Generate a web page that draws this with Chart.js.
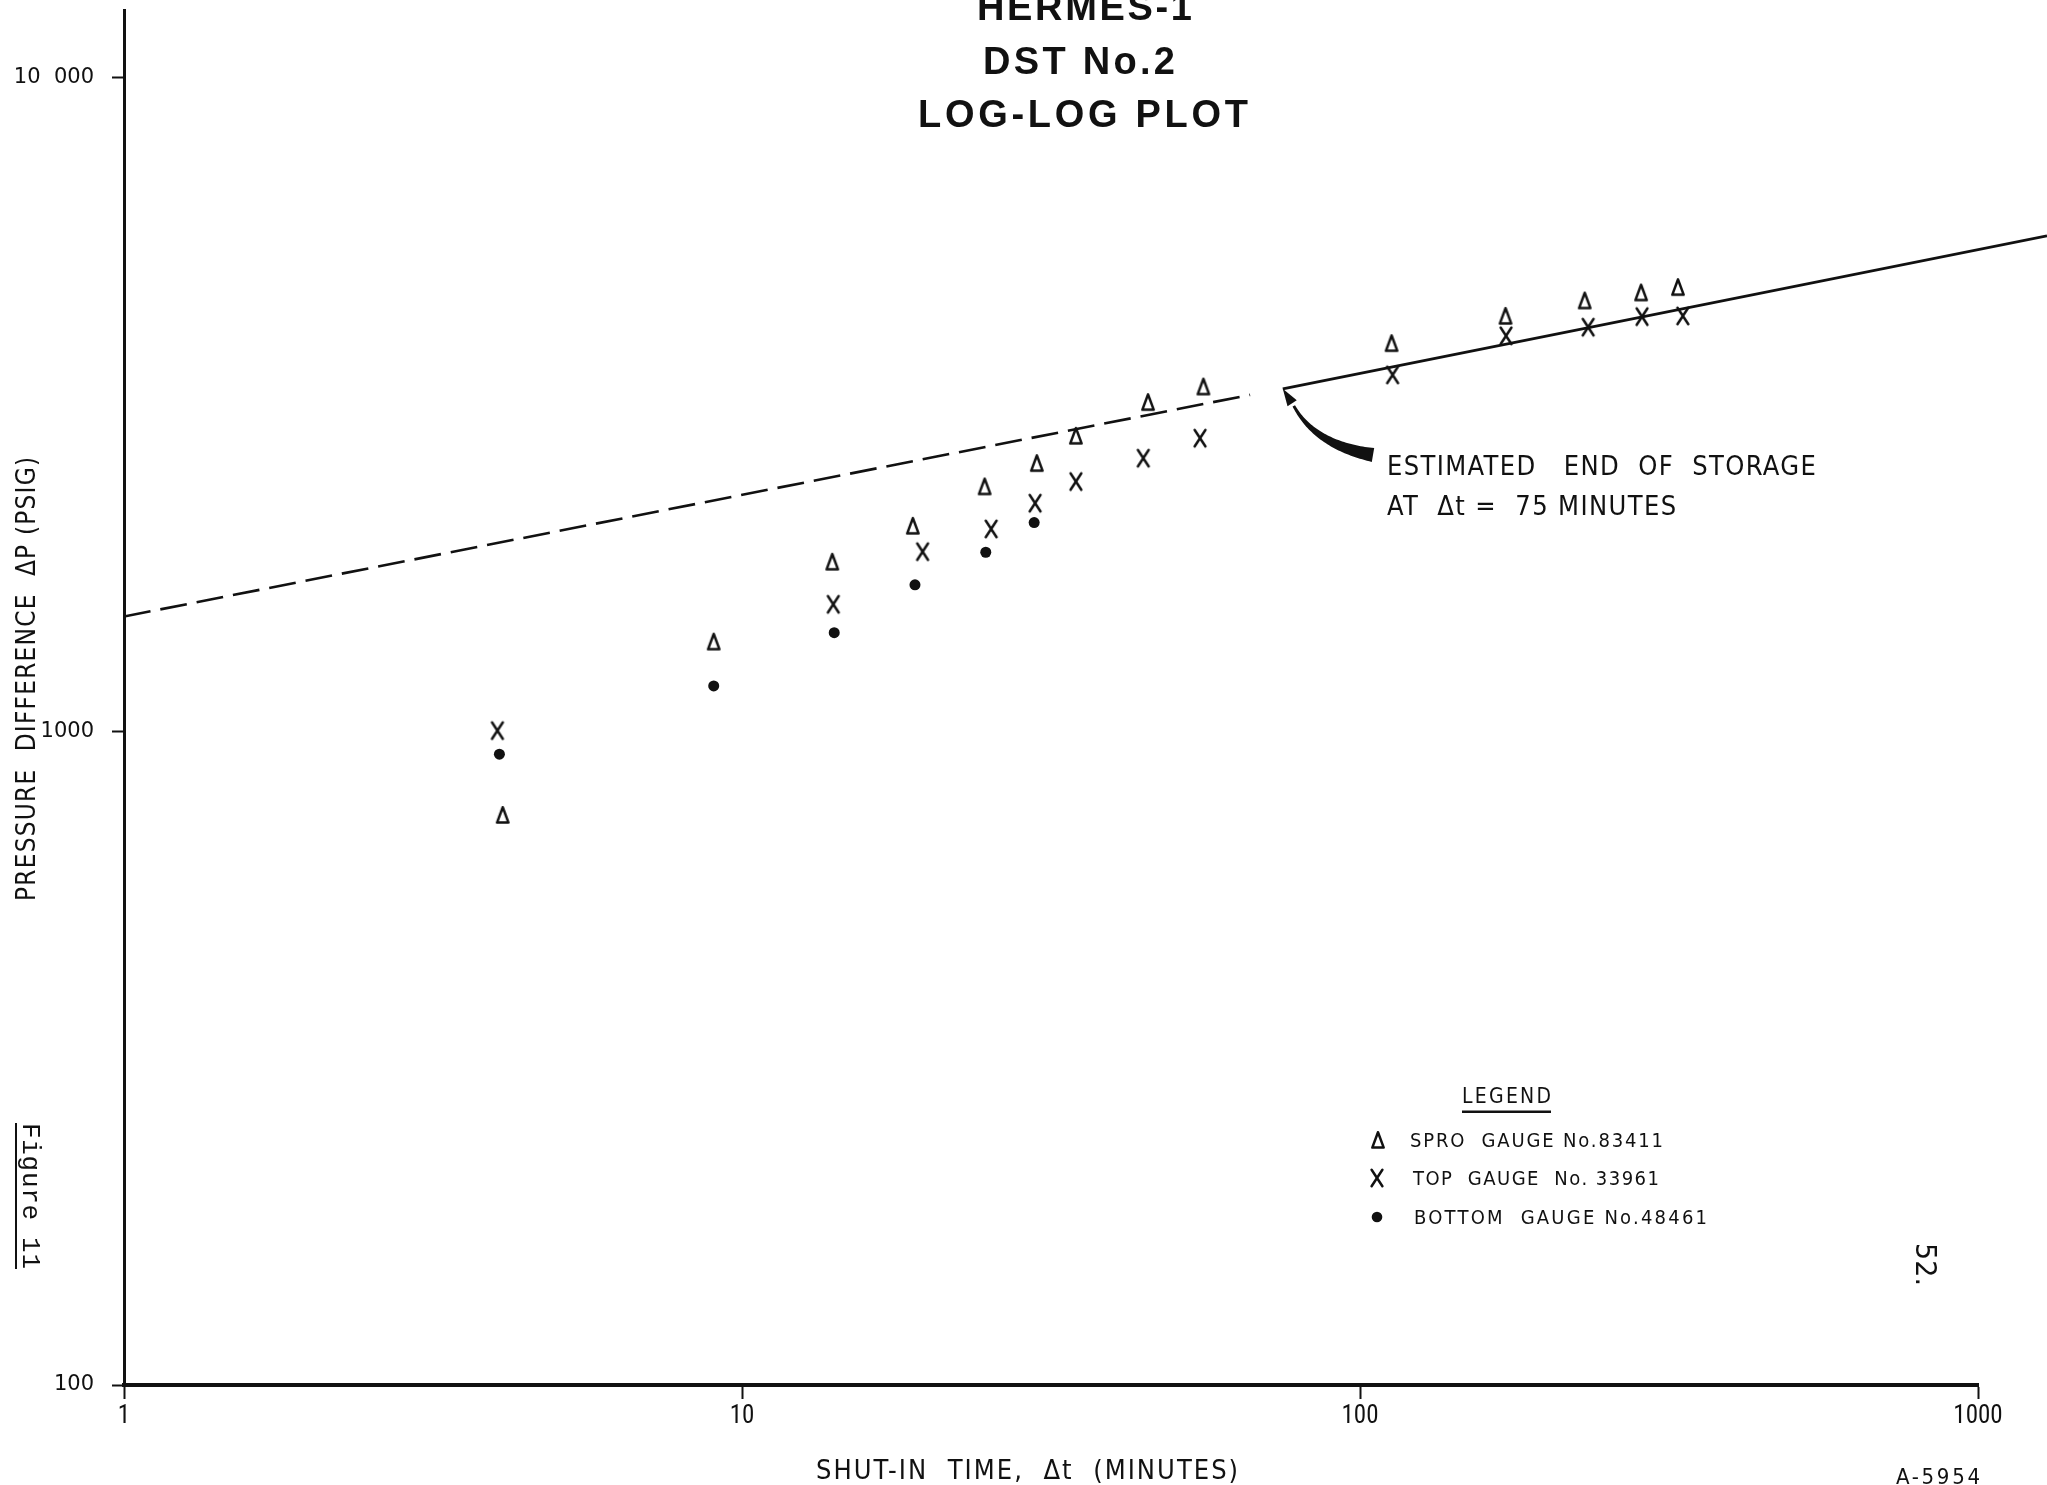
<!DOCTYPE html>
<html>
<head>
<meta charset="utf-8">
<title>HERMES-1 DST No.2 Log-Log Plot</title>
<script src="https://cdn.jsdelivr.net/npm/chart.js@4/dist/chart.umd.min.js"></script>
<style>
  html, body { margin: 0; padding: 0; background: #fff; }
  #wrap { width: 2047px; height: 1485px; position: relative; }
  canvas { display: block; }
</style>
</head>
<body>
<div id="wrap"><canvas id="plot" width="2047" height="1485"></canvas></div>
<script>
// Axis ticks
const xTickValues = [1, 10, 100, 1000];
const xTickLabels = ['1', '10', '100', '1000'];
const yTickValues = [100, 1000, 10000];
const yTickLabels = ['100', '1000', '10\u2007000'];

// Shut-in time (minutes) and pressure difference (psig) per gauge
const sproTime   = [4.1, 9.0, 14.0, 18.9, 24.7, 30.0, 34.7, 45.4, 55.8, 112.5, 172, 231, 285, 327];
const sproDP     = [745, 1372, 1818, 2063, 2370, 2573, 2833, 3190, 3370, 3926, 4323, 4563, 4694, 4783];
const topTime    = [4.02, 14.05, 19.6, 25.3, 29.8, 34.7, 44.6, 55.1, 112.9, 172.3, 234, 286, 333];
const topDP      = [1003, 1565, 1884, 2041, 2235, 2412, 2619, 2810, 3512, 4030, 4155, 4312, 4323];
const bottomTime = [4.05, 9.0, 14.1, 19.05, 24.8, 29.7];
const bottomDP   = [923, 1174, 1416, 1676, 1880, 2087];

// Straight-line trend: dashed during wellbore storage, solid after it ends
const storageEndTime = 75;
const earlyTrendTime = [1, 66.4];
const earlyTrendDP   = [1499, 3273];
const lateTrendTime  = [storageEndTime, 1293];
const lateTrendDP    = [3343, 5731];

// Text
const titleLines  = ['HERMES-1', 'DST No.2', 'LOG-LOG PLOT'];
const xTitle      = 'SHUT-IN  TIME,  Δt  (MINUTES)';
const yTitle      = 'PRESSURE  DIFFERENCE  ΔP (PSIG)';
const noteLines   = ['ESTIMATED   END  OF  STORAGE', 'AT  Δt =  75 MINUTES'];
const legendTitle = 'LEGEND';
const legendItems = ['SPRO  GAUGE No.83411', 'TOP  GAUGE  No. 33961', 'BOTTOM  GAUGE No.48461'];

const INK = '#111111';

function pts(xs, ys) { return xs.map((x, i) => ({ x: x, y: ys[i] })); }

// Marker glyphs used for the gauges
function makeMarker(kind) {
  const c = document.createElement('canvas');
  c.width = 18; c.height = 22;
  const g = c.getContext('2d');
  g.strokeStyle = INK; g.lineCap = 'round'; g.lineJoin = 'round';
  g.lineWidth = 2.5;
  g.beginPath();
  if (kind === 'delta') {
    g.moveTo(9, 3.2); g.lineTo(3.3, 18.6); g.lineTo(14.7, 18.6); g.closePath();
  } else {
    g.moveTo(3.6, 2.8); g.lineTo(14.4, 19.2); g.moveTo(14.4, 2.8); g.lineTo(3.6, 19.2);
  }
  g.stroke();
  return c;
}
const deltaMark = makeMarker('delta');
const crossMark = makeMarker('cross');

// Draw text into a given width: squeeze when too wide, letter-space when too narrow
function fitText(ctx, text, x, y, width, font) {
  ctx.save();
  ctx.font = font;
  ctx.textAlign = 'left';
  ctx.textBaseline = 'alphabetic';
  ctx.fillStyle = INK;
  const natural = ctx.measureText(text).width;
  ctx.translate(x, y);
  if (natural > width) {
    ctx.scale(width / natural, 1);
  } else if (natural < width) {
    const n = Array.from(text).length;
    if (n > 1) ctx.letterSpacing = ((width - natural) / (n - 1)).toFixed(2) + 'px';
  }
  ctx.fillText(text, 0, 0);
  ctx.restore();
}
function fitTextRotated(ctx, text, x, y, angle, width, font) {
  ctx.save();
  ctx.translate(x, y);
  ctx.rotate(angle);
  fitText(ctx, text, 0, 0, width, font);
  ctx.restore();
}

const LETTER = '"DejaVu Sans Condensed", "Liberation Sans", sans-serif';

const paperPlugin = {
  id: 'paper',
  beforeDraw(chart) {
    const ctx = chart.ctx;
    ctx.save();
    ctx.fillStyle = '#ffffff';
    ctx.fillRect(0, 0, chart.width, chart.height);
    ctx.restore();
  }
};

function drawArrow(ctx, tip) {
  const P0 = { x: 1373, y: 455 };              // blunt tail beside the note
  const P2 = { x: tip.x + 11, y: tip.y + 17 }; // base of the arrowhead
  const C  = { x: P0.x - 58, y: P0.y - 10 };
  const N = 48, left = [], right = [];
  for (let i = 0; i <= N; i++) {
    const t = i / N, u = 1 - t;
    const x = u * u * P0.x + 2 * u * t * C.x + t * t * P2.x;
    const y = u * u * P0.y + 2 * u * t * C.y + t * t * P2.y;
    let dx = 2 * u * (C.x - P0.x) + 2 * t * (P2.x - C.x);
    let dy = 2 * u * (C.y - P0.y) + 2 * t * (P2.y - C.y);
    const len = Math.hypot(dx, dy) || 1; dx /= len; dy /= len;
    const w = 1.4 + 5.6 * Math.pow(u, 1.3);
    left.push([x - dy * w, y + dx * w]);
    right.push([x + dy * w, y - dx * w]);
  }
  ctx.save();
  ctx.fillStyle = INK;
  ctx.beginPath();
  left.forEach((p, i) => i ? ctx.lineTo(p[0], p[1]) : ctx.moveTo(p[0], p[1]));
  for (let i = right.length - 1; i >= 0; i--) ctx.lineTo(right[i][0], right[i][1]);
  ctx.closePath();
  ctx.fill();
  // arrowhead
  let hx = tip.x - P2.x, hy = tip.y - P2.y;
  const hl = Math.hypot(hx, hy); hx /= hl; hy /= hl;
  const bx = P2.x + hx * 3, by = P2.y + hy * 3;
  ctx.beginPath();
  ctx.moveTo(tip.x, tip.y);
  ctx.lineTo(bx - hy * 5.5, by + hx * 5.5);
  ctx.lineTo(bx + hy * 5.5, by - hx * 5.5);
  ctx.closePath();
  ctx.fill();
  ctx.restore();
}

const notesPlugin = {
  id: 'notes',
  afterDraw(chart) {
    const ctx = chart.ctx;
    const xs = chart.scales.x, ys = chart.scales.y;

    // title block
    const titleFont = 'bold 38px "Liberation Sans", Arial, sans-serif';
    fitText(ctx, titleLines[0], 977, 20, 215, titleFont);
    fitText(ctx, titleLines[1], 983, 74, 192, titleFont);
    fitText(ctx, titleLines[2], 918, 127, 330, titleFont);

    // axis titles
    fitTextRotated(ctx, yTitle, 35, 901, -Math.PI / 2, 444, '26px ' + LETTER);
    fitText(ctx, xTitle, 816, 1479, 422, '27px ' + LETTER);
    fitText(ctx, 'A-5954', 1896, 1484, 84, '22px ' + LETTER);

    // figure caption and page number along the margins
    ctx.save();
    ctx.translate(23, 1123);
    ctx.rotate(Math.PI / 2);
    fitText(ctx, 'Figure 11', 0, 0, 146, '26px "Liberation Mono", "DejaVu Sans Mono", monospace');
    ctx.fillStyle = INK;
    ctx.fillRect(0, 6, 146, 2);
    ctx.restore();
    fitTextRotated(ctx, '52.', 1916, 1243, Math.PI / 2, 43, '29px "DejaVu Sans", sans-serif');

    // end-of-storage note with curved arrow to the start of the solid line
    const tip = { x: xs.getPixelForValue(lateTrendTime[0]), y: ys.getPixelForValue(lateTrendDP[0]) };
    drawArrow(ctx, tip);
    fitText(ctx, noteLines[0], 1387, 475, 429, '27px ' + LETTER);
    fitText(ctx, noteLines[1], 1387, 515, 289, '27px ' + LETTER);

    // legend
    fitText(ctx, legendTitle, 1462, 1103, 89, '21px ' + LETTER);
    ctx.save();
    ctx.fillStyle = INK;
    ctx.fillRect(1462, 1110.5, 89, 2.5);
    ctx.drawImage(deltaMark, 1378 - 9, 1140 - 11);
    ctx.drawImage(crossMark, 1377 - 9, 1178 - 11);
    ctx.beginPath(); ctx.arc(1377, 1217, 5.3, 0, Math.PI * 2); ctx.fill();
    ctx.restore();
    fitText(ctx, legendItems[0], 1410, 1147, 253, '20px ' + LETTER);
    fitText(ctx, legendItems[1], 1413, 1185, 246, '20px ' + LETTER);
    fitText(ctx, legendItems[2], 1414, 1224, 293, '20px ' + LETTER);
  }
};

new Chart(document.getElementById('plot'), {
  type: 'scatter',
  data: {
    datasets: [
      { label: legendItems[0], data: pts(sproTime, sproDP), pointStyle: deltaMark, pointRadius: 8, order: 1 },
      { label: legendItems[1], data: pts(topTime, topDP), pointStyle: crossMark, pointRadius: 8, order: 1 },
      { label: legendItems[2], data: pts(bottomTime, bottomDP), pointStyle: 'circle', pointRadius: 5.5,
        backgroundColor: INK, borderWidth: 0, order: 1 },
      { label: 'storage trend', data: pts(earlyTrendTime, earlyTrendDP), showLine: true, pointRadius: 0,
        borderColor: INK, borderWidth: 2.6, borderDash: [27, 10], order: 2 },
      { label: 'radial flow trend', data: pts(lateTrendTime, lateTrendDP), showLine: true, pointRadius: 0,
        borderColor: INK, borderWidth: 2.8, clip: false, order: 2 }
    ]
  },
  options: {
    responsive: false,
    animation: false,
    events: [],
    layout: { padding: { left: 0, top: 10, right: 69, bottom: 0 } },
    plugins: { legend: { display: false }, tooltip: { enabled: false }, title: { display: false } },
    scales: {
      x: {
        type: 'logarithmic', position: 'bottom', min: 1, max: 1000,
        afterBuildTicks: s => { s.ticks = xTickValues.map(v => ({ value: v })); },
        afterFit: s => { s.height = 100; s.paddingLeft = 0; s.paddingRight = 0; },
        ticks: {
          autoSkip: false, maxRotation: 0, padding: 3, color: INK,
          font: { family: '"Roboto Condensed", "DejaVu Sans Condensed", sans-serif', size: 25 },
          callback: (v, i) => xTickLabels[i]
        },
        grid: { drawOnChartArea: false, drawTicks: true, tickLength: 14, tickWidth: 2, tickColor: INK },
        border: { display: true, color: INK, width: 4 }
      },
      y: {
        type: 'logarithmic', position: 'left', min: 100, max: 12700,
        afterBuildTicks: s => { s.ticks = yTickValues.map(v => ({ value: v })); },
        afterFit: s => { s.width = 124; s.paddingTop = 0; s.paddingBottom = 0; },
        ticks: {
          autoSkip: false, padding: 18, color: INK,
          font: { family: '"DejaVu Sans", sans-serif', size: 21 },
          callback: (v, i) => yTickLabels[i]
        },
        grid: { drawOnChartArea: false, drawTicks: true, tickLength: 12, tickWidth: 2, tickColor: INK },
        border: { display: true, color: INK, width: 3 }
      }
    }
  },
  plugins: [paperPlugin, notesPlugin]
});
</script>
</body>
</html>
